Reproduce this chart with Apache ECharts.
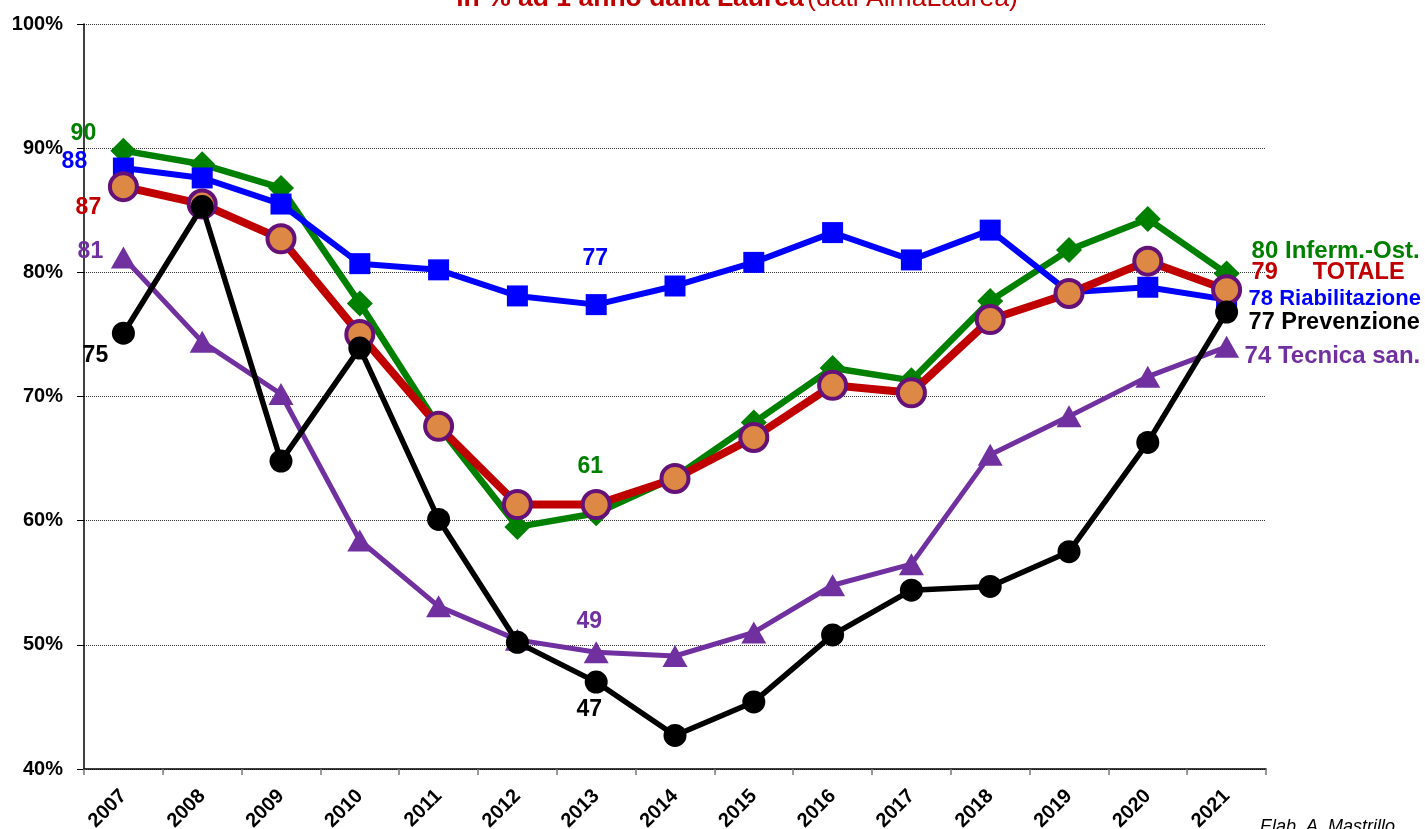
<!DOCTYPE html>
<html>
<head>
<meta charset="utf-8">
<script src="https://cdn.jsdelivr.net/npm/echarts@6/dist/echarts.min.js"></script>
<style>
  html, body { margin: 0; padding: 0; background: #ffffff; }
  #chart { width: 1425px; height: 829px; }
</style>
</head>
<body>
<div id="chart"></div>
<script>
// ---- data ----
const years = ['2007','2008','2009','2010','2011','2012','2013','2014','2015','2016','2017','2018','2019','2020','2021'];
const infermOst     = [89.8, 88.7, 86.8, 77.5, 67.6, 59.5, 60.6, 63.5, 67.9, 72.3, 71.3, 77.7, 81.8, 84.3, 79.9];
const totale        = [86.9, 85.5, 82.7, 75.0, 67.6, 61.3, 61.3, 63.4, 66.7, 70.9, 70.3, 76.2, 78.3, 80.9, 78.6];
const riabilitazione= [88.4, 87.6, 85.5, 80.7, 80.2, 78.1, 77.4, 78.9, 80.8, 83.2, 81.0, 83.4, 78.4, 78.8, 77.8];
const prevenzione   = [75.1, 85.3, 64.8, 73.9, 60.1, 50.2, 47.0, 42.7, 45.4, 50.8, 54.4, 54.7, 57.5, 66.3, 76.8];
const tecnica       = [81.2, 74.4, 70.2, 58.4, 53.1, 50.4, 49.4, 49.1, 51.0, 54.8, 56.5, 65.3, 68.4, 71.6, 74.0];
const yTicks = [40, 50, 60, 70, 80, 90, 100];
const titleBold = 'in % ad 1 anno dalla Laurea';
const titleNormal = '(dati AlmaLaurea)';
const footer = 'Elab. A. Mastrillo';

const FONT = 'Liberation Sans, Arial, sans-serif';

function mkData(values, color, labels, endName, endOffset, endSize, endRich) {
  const last = values.length - 1;
  return values.map((v, i) => {
    if (labels[i]) {
      return { value: v, label: {
        show: true, position: 'inside', offset: labels[i], align: 'center', verticalAlign: 'middle',
        formatter: String(Math.round(v)), color: color, fontSize: 23, fontWeight: 'bold',
        fontFamily: FONT, textBorderWidth: 0
      }};
    }
    if (i === last) {
      return { value: v, label: {
        show: true, position: 'inside', offset: endOffset, align: 'left', verticalAlign: 'middle',
        formatter: endRich ? '{v|' + Math.round(v) + '}{n|' + endName + '}' : Math.round(v) + ' ' + endName,
        rich: endRich || undefined,
        color: color, fontSize: endSize, fontWeight: 'bold', fontFamily: FONT, textBorderWidth: 0
      }};
    }
    return v;
  });
}

const GREEN = '#008000', BLUE = '#0000ff', RED = '#c00000', BLACK = '#000000', PURPLE = '#7030a0';

const chart = echarts.init(document.getElementById('chart'), null, { renderer: 'canvas' });
chart.setOption({
  backgroundColor: '#ffffff',
  animation: false,
  grid: { left: 84, right: 159, top: 24, bottom: 60, containLabel: false, outerBoundsMode: 'none' },
  graphic: [
    { type: 'text', x: 737, y: -15, z: 100,
      style: { text: '{a|' + titleBold + '} {b|' + titleNormal + '}',
        align: 'center', verticalAlign: 'top',
        rich: {
          a: { fontSize: 26.5, fontWeight: 'bold', fill: RED, fontFamily: FONT },
          b: { fontSize: 26.5, fontWeight: 'normal', fill: RED, fontFamily: FONT }
        } } },
    { type: 'text', x: 1260, y: 818, z: 100,
      style: { text: footer, fontSize: 18, fontStyle: 'italic', fill: '#000', fontFamily: FONT,
        align: 'left', verticalAlign: 'top' } }
  ],
  xAxis: {
    type: 'category', data: years, boundaryGap: true,
    axisLine: { show: true, lineStyle: { color: '#000', width: 1.5 } },
    axisTick: { show: true, alignWithLabel: false, length: 6, lineStyle: { color: '#777', width: 1.5 } },
    axisLabel: { interval: 0, rotate: 45, margin: 24, color: '#000', fontSize: 20, fontWeight: 'bold', fontFamily: FONT },
    splitLine: { show: false }
  },
  yAxis: {
    type: 'value', min: yTicks[0], max: yTicks[yTicks.length - 1], interval: 10,
    axisLine: { show: true, lineStyle: { color: '#000', width: 1.5 } },
    axisTick: { show: true, length: 7, lineStyle: { color: '#000', width: 1 } },
    axisLabel: { formatter: '{value}%', margin: 21, color: '#000', fontSize: 20, fontWeight: 'bold', fontFamily: FONT },
    splitLine: { show: true, lineStyle: { color: '#333', width: 1, type: [1, 1] } }
  },
  series: [
    { name: 'Tecnica san.', type: 'line', z: 2,
      data: mkData(tecnica, PURPLE, { 0: [-33, -6], 6: [-7, -31] }, 'Tecnica san.', [18, 10], 24),
      lineStyle: { color: PURPLE, width: 5 }, itemStyle: { color: PURPLE },
      symbol: 'triangle', symbolSize: [25, 22], showAllSymbol: true },
    { name: 'Inferm.-Ost.', type: 'line', z: 3,
      data: mkData(infermOst, GREEN, { 0: [-40, -17], 6: [-6, -47] }, 'Inferm.-Ost.', [25, -22], 24),
      lineStyle: { color: GREEN, width: 6.5 }, itemStyle: { color: GREEN },
      symbol: 'diamond', symbolSize: 26, showAllSymbol: true },
    { name: 'Riabilitazione', type: 'line', z: 4,
      data: mkData(riabilitazione, BLUE, { 0: [-49, -6], 6: [-1, -46] }, 'Riabilitazione', [22, -1], 22),
      lineStyle: { color: BLUE, width: 6 }, itemStyle: { color: BLUE },
      symbol: 'rect', symbolSize: 21, showAllSymbol: true },
    { name: 'TOTALE', type: 'line', z: 5,
      data: mkData(totale, RED, { 0: [-35, 21] }, 'TOTALE', [25, -17], 23,
        { v: { color: RED, fontSize: 23.5, fontWeight: 'bold', fontFamily: FONT },
          n: { color: RED, fontSize: 23.5, fontWeight: 'bold', fontFamily: FONT, padding: [0, 0, 0, 35] } }),
      lineStyle: { color: RED, width: 8 },
      itemStyle: { color: '#dd8844', borderColor: '#661177', borderWidth: 4 },
      symbol: 'circle', symbolSize: 27, showAllSymbol: true },
    { name: 'Prevenzione', type: 'line', z: 6,
      data: mkData(prevenzione, BLACK, { 0: [-28, 22], 6: [-7, 28] }, 'Prevenzione', [22, 10], 23.5),
      lineStyle: { color: BLACK, width: 5.5 }, itemStyle: { color: BLACK },
      symbol: 'circle', symbolSize: 23, showAllSymbol: true }
  ]
});
</script>
</body>
</html>
